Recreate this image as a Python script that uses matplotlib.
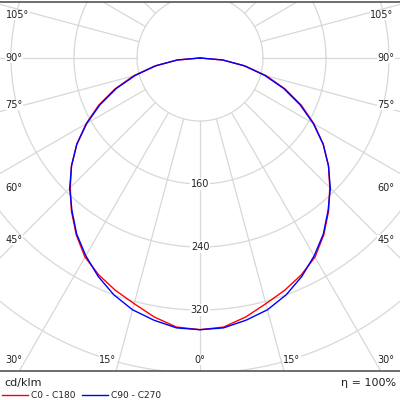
import numpy as np
import matplotlib
matplotlib.use("Agg")
import matplotlib.pyplot as plt

angles = [0, 5, 10, 15, 20, 25, 30, 35, 40, 45, 50, 55, 60, 65, 70, 75, 80, 85, 90]
c0_c180 = [345, 343, 334, 323, 314, 304, 292, 274, 254, 233, 213, 191, 167, 142, 115, 87, 58, 29, 0]
c90_c270 = [345, 344, 338, 331, 320, 306, 290, 273, 253, 234, 213, 191, 166, 140, 113, 85, 57, 29, 0]
ring_labels = [160, 240, 320]
angle_labels = ["105°", "90°", "75°", "60°", "45°", "30°", "15°", "0°"]

S = 0.7875  # px per cd
fig = plt.figure(figsize=(4, 4), dpi=100)
ax = fig.add_axes([0, 29/400, 1, 369/400])
ax.set_xlim(-200/S, 200/S)
ax.set_ylim(-313/S, 56/S)
ax.set_aspect('auto')
for s in ['left', 'right']:
    ax.spines[s].set_visible(False)
for s in ['top', 'bottom']:
    ax.spines[s].set_color('#555555')
    ax.spines[s].set_linewidth(1.2)
ax.set_xticks([]); ax.set_yticks([])

grid = '#d8d8d8'
t = np.linspace(0, 2*np.pi, 400)
for r in range(80, 801, 80):
    ax.plot(r*np.cos(t), r*np.sin(t), color=grid, lw=0.9, zorder=1)
for a in range(0, 360, 15):
    ar = np.radians(a)
    ax.plot([80*np.sin(ar), 900*np.sin(ar)], [-80*np.cos(ar), -900*np.cos(ar)], color=grid, lw=0.9, zorder=1)

for r in ring_labels:
    ax.text(0, -r, str(r), ha='center', va='center', fontsize=7, color='#222222',
            bbox=dict(facecolor='white', edgecolor='none', pad=0.5), zorder=2)

def px(x, y):
    return (x - 200) / S, (58 - y) / S

pos_left = [(18, 15), (14, 58), (14, 105), (14, 188), (14, 240), (14, 360), (108, 360), (200, 360)]
for lab, (x, y) in zip(angle_labels, pos_left):
    ax.text(*px(x, y), lab, ha='center', va='center', fontsize=7, color='#222222',
            bbox=dict(facecolor='white', edgecolor='none', pad=0.3), zorder=2)
    if lab != "0°":
        ax.text(*px(400 - x, y), lab, ha='center', va='center', fontsize=7, color='#222222',
                bbox=dict(facecolor='white', edgecolor='none', pad=0.3), zorder=2)

def curve(vals):
    th = np.radians(np.array([-a for a in angles[::-1]] + angles[1:]))
    r = np.array(vals[::-1] + vals[1:])
    return r*np.sin(th), -r*np.cos(th)

x, y = curve(c0_c180)
ax.plot(x, y, color='red', lw=1.0, zorder=3)
x, y = curve(c90_c270)
ax.plot(x, y, color='blue', lw=1.0, zorder=3)

fig.text(4/400, 1-383/400, "cd/klm", fontsize=8, va='center', ha='left', color='#222222')
fig.text(396/400, 1-383/400, "η = 100%", fontsize=8, va='center', ha='right', color='#222222')
fig.lines.append(plt.Line2D([2/400, 28/400], [1-395/400]*2, color='red', lw=1, transform=fig.transFigure))
fig.text(31/400, 1-395/400, "C0 - C180", fontsize=6.5, va='center', ha='left', color='#222222')
fig.lines.append(plt.Line2D([82/400, 108/400], [1-395/400]*2, color='blue', lw=1, transform=fig.transFigure))
fig.text(111/400, 1-395/400, "C90 - C270", fontsize=6.5, va='center', ha='left', color='#222222')

fig.savefig("out.png", dpi=100)
